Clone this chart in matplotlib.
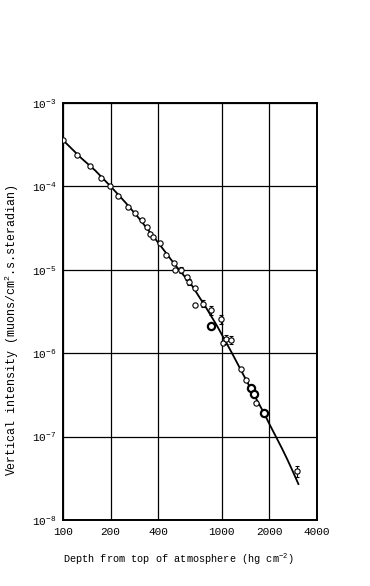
import matplotlib
matplotlib.use("Agg")
import matplotlib.pyplot as plt
import numpy as np

plt.rcParams['font.family'] = ['Liberation Mono', 'DejaVu Sans Mono']
plt.rcParams['mathtext.fontset'] = 'custom'
plt.rcParams['mathtext.rm'] = 'Liberation Mono'
plt.rcParams['mathtext.it'] = 'Liberation Mono'
plt.rcParams['mathtext.default'] = 'regular'

# depth (hg cm^-2) and intensity
depth_open = [100, 123, 149, 174, 197, 223, 258, 283, 314, 338, 355, 371, 408,
              446, 503, 510, 684, 682, 1014, 1333, 1427, 1641]
inten_open = [3.6e-4, 2.4e-4, 1.77e-4, 1.27e-4, 1.0e-4, 7.7e-5, 5.7e-5, 4.76e-5,
              4.0e-5, 3.26e-5, 2.69e-5, 2.47e-5, 2.11e-5, 1.5e-5, 1.21e-5,
              9.9e-6, 3.83e-6, 6.05e-6, 1.31e-6, 6.45e-7, 4.73e-7, 2.54e-7]

depth_bold = [864, 1527, 1603, 1855]
inten_bold = [2.14e-6, 3.8e-7, 3.2e-7, 1.91e-7]

depth_err = [553, 604, 627, 766, 864, 986, 1071, 1140, 2997]
inten_err = [1.0e-5, 8.1e-6, 7.1e-6, 3.94e-6, 3.29e-6, 2.55e-6, 1.48e-6, 1.45e-6, 3.86e-8]
rel_err = [0.08, 0.08, 0.08, 0.1, 0.12, 0.12, 0.12, 0.12, 0.15]

# fitted curve
depth_fit = [100, 130, 160, 200, 250, 300, 400, 500, 650, 800, 935, 1164,
             1500, 1855, 2000, 2200, 2400, 2600, 2800, 3050]
inten_fit = [3.6e-4, 2.2e-4, 1.55e-4, 1.0e-4, 6.3e-5, 4.2e-5, 2.1e-5, 1.2e-5,
             6.5e-6, 3.5e-6, 2.14e-6, 1.0e-6, 4.0e-7, 1.9e-7, 1.42e-7, 1.0e-7,
             7.25e-8, 5.3e-8, 3.9e-8, 2.7e-8]

xticks = [100, 200, 400, 1000, 2000, 4000]

fig = plt.figure(figsize=(3.7, 5.86), dpi=100)
ax = fig.add_axes([0.170, 0.1126, 0.687, 0.7116])
ax.set_xscale('log')
ax.set_yscale('log')
ax.set_xlim(100, 4000)
ax.set_ylim(1e-8, 1e-3)

ax.plot(depth_fit, inten_fit, color='black', lw=1.3, zorder=3)
ax.plot(depth_open, inten_open, 'o', ms=3.8, mfc='white', mec='black', mew=0.8, zorder=4)
ax.plot(depth_bold, inten_bold, 'o', ms=5.2, mfc='white', mec='black', mew=1.6, zorder=4)
err = np.array(inten_err) * np.array(rel_err)
ax.errorbar(depth_err, inten_err, yerr=err, fmt='o', ms=3.8, mfc='white', mec='black',
            mew=0.8, ecolor='black', elinewidth=0.8, capsize=1.5, capthick=0.8, zorder=4)

ax.set_xticks(xticks)
ax.set_xticklabels([str(t) for t in xticks])
ax.xaxis.set_minor_locator(matplotlib.ticker.NullLocator())
ax.yaxis.set_minor_locator(matplotlib.ticker.NullLocator())
ax.grid(True, which='major', color='black', lw=0.9)
ax.tick_params(length=0, labelsize=8, pad=5)
for s in ax.spines.values():
    s.set_linewidth(1.4)

ax.set_xlabel('Depth from top of atmosphere (hg cm$^{-2}$)', fontsize=7.4)
ax.xaxis.set_label_coords(0.455, -0.075)
ax.set_ylabel('Vertical intensity (muons/cm$^{2}$.s.steradian)', fontsize=8.4)
ax.yaxis.set_label_coords(-0.163, 0.455)

fig.savefig('out.png', dpi=100)
